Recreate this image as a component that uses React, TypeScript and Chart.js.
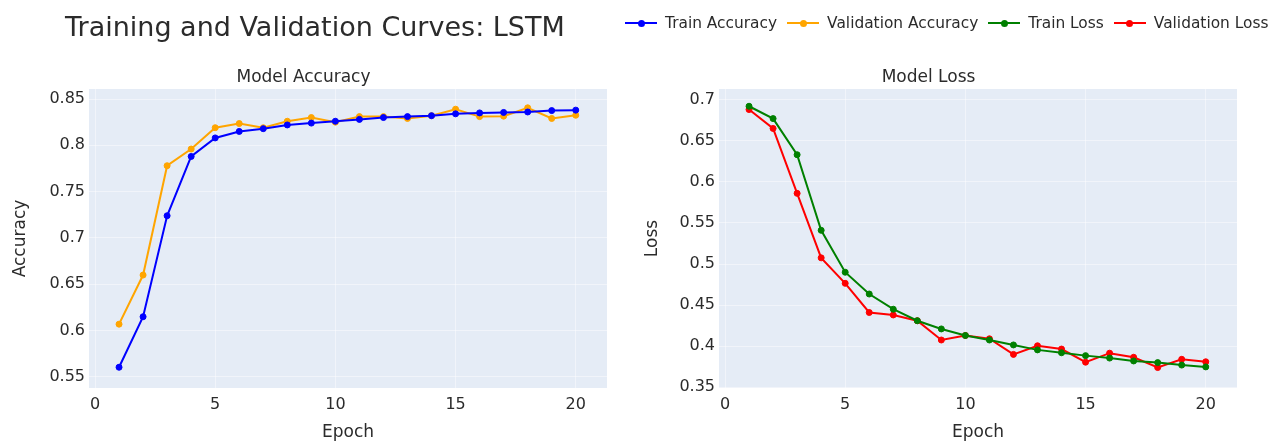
import React, { useEffect, useRef } from 'react';
import { Chart, registerables } from 'chart.js';

Chart.register(...registerables);

// ---------- data ----------
const epochs = [1, 2, 3, 4, 5, 6, 7, 8, 9, 10, 11, 12, 13, 14, 15, 16, 17, 18, 19, 20];
const trainAcc = [0.5605, 0.615, 0.724, 0.788, 0.808, 0.815, 0.818, 0.822, 0.824, 0.826, 0.828, 0.830, 0.831, 0.832, 0.834, 0.835, 0.8355, 0.836, 0.8375, 0.838];
const valAcc = [0.607, 0.660, 0.778, 0.796, 0.819, 0.8235, 0.819, 0.826, 0.830, 0.825, 0.831, 0.831, 0.829, 0.832, 0.839, 0.831, 0.8315, 0.8405, 0.829, 0.8325];
const trainLoss = [0.692, 0.677, 0.633, 0.541, 0.490, 0.4635, 0.445, 0.431, 0.421, 0.413, 0.4075, 0.4015, 0.3955, 0.392, 0.3885, 0.3855, 0.382, 0.380, 0.377, 0.3748];
const valLoss = [0.688, 0.665, 0.586, 0.5075, 0.4765, 0.441, 0.438, 0.431, 0.4075, 0.413, 0.409, 0.390, 0.4005, 0.3965, 0.3805, 0.3915, 0.3865, 0.374, 0.384, 0.381];

const accTicks = [0.55, 0.6, 0.65, 0.7, 0.75, 0.8, 0.85];
const lossTicks = [0.35, 0.4, 0.45, 0.5, 0.55, 0.6, 0.65, 0.7];
const epochTicks = [0, 5, 10, 15, 20];

const seriesNames = ['Train Accuracy', 'Validation Accuracy', 'Train Loss', 'Validation Loss'];
const seriesColors = ['#0000ff', '#ffa500', '#008000', '#ff0000'];

const mainTitle = 'Training and Validation Curves: LSTM';
const accTitle = 'Model Accuracy';
const lossTitle = 'Model Loss';
const xTitle = 'Epoch';
const accYTitle = 'Accuracy';
const lossYTitle = 'Loss';

// ---------- style ----------
const FONT = '"DejaVu Sans", Verdana, sans-serif';
const TEXT = '#2b2b2b';
const PLOT_BG = '#E5ECF6';
const GRID = 'rgba(255,255,255,0.45)';

const bgPlugin = {
  id: 'plotBg',
  beforeDraw(chart: any) {
    const { ctx, chartArea } = chart;
    if (!chartArea) return;
    ctx.save();
    ctx.fillStyle = PLOT_BG;
    ctx.fillRect(chartArea.left, chartArea.top, chartArea.width, chartArea.height);
    ctx.restore();
  },
};

function toPoints(ys: number[]) {
  return epochs.map((x, i) => ({ x, y: ys[i] }));
}

function dataset(label: string, color: string, ys: number[]) {
  return {
    label,
    data: toPoints(ys),
    borderColor: color,
    backgroundColor: color,
    pointBackgroundColor: color,
    pointBorderColor: color,
    borderWidth: 2,
    pointRadius: 3,
    pointBorderWidth: 1,
    tension: 0,
  };
}

type PanelProps = {
  left: number;
  width: number;
  title: string;
  yTitle: string;
  yTicks: number[];
  yMin: number;
  yMax: number;
  yWidth: number;
  yTitlePad: number;
  padRight: number;
  datasets: any[];
};

function Panel(p: PanelProps) {
  const ref = useRef<HTMLCanvasElement | null>(null);
  useEffect(() => {
    if (!ref.current) return;
    const chart = new Chart(ref.current, {
      type: 'line',
      data: { datasets: p.datasets },
      plugins: [bgPlugin],
      options: {
        animation: false,
        responsive: false,
        maintainAspectRatio: false,
        layout: { padding: { top: 64.6, left: 0, right: p.padRight, bottom: 0 } },
        plugins: {
          legend: { display: false },
          tooltip: { enabled: false },
          title: {
            display: true,
            text: p.title,
            color: TEXT,
            font: { family: FONT, size: 17, weight: 'normal', lineHeight: 1.2 },
            padding: { top: 2.5, bottom: 1.5 },
          },
        },
        scales: {
          x: {
            type: 'linear',
            min: -0.25,
            max: 21.3,
            afterBuildTicks(scale: any) {
              scale.ticks = epochTicks.map((v) => ({ value: v }));
            },
            afterFit(scale: any) {
              scale.height = 58;
            },
            ticks: {
              color: TEXT,
              padding: 7,
              font: { family: FONT, size: 16 },
              callback: (v: any) => String(v),
              maxRotation: 0,
            },
            grid: { color: GRID, lineWidth: 1, drawTicks: false },
            border: { display: false },
            title: {
              display: true,
              text: xTitle,
              color: TEXT,
              font: { family: FONT, size: 17, lineHeight: 1.2 },
              padding: { top: 0, bottom: 3 },
            },
          },
          y: {
            type: 'linear',
            min: p.yMin,
            max: p.yMax,
            afterBuildTicks(scale: any) {
              scale.ticks = p.yTicks.map((v) => ({ value: v }));
            },
            afterFit(scale: any) {
              scale.width = p.yWidth;
            },
            ticks: {
              color: TEXT,
              padding: 4,
              font: { family: FONT, size: 16 },
              callback: (v: any) => String(Number(Number(v).toFixed(2))),
            },
            grid: { color: GRID, lineWidth: 1, drawTicks: false },
            border: { display: false },
            title: {
              display: true,
              text: p.yTitle,
              color: TEXT,
              font: { family: FONT, size: 17, lineHeight: 1.2 },
              padding: { top: p.yTitlePad, bottom: 0 },
            },
          },
        },
      } as any,
    });
    return () => chart.destroy();
  }, []);
  return (
    <canvas
      ref={ref}
      width={p.width}
      height={446}
      style={{ position: 'absolute', left: p.left, top: 0, width: p.width, height: 446 }}
    />
  );
}

function LegendIcon({ color }: { color: string }) {
  return (
    <span style={{ position: 'relative', display: 'inline-block', width: 32, height: 10, marginRight: 8 }}>
      <span style={{ position: 'absolute', left: 0, right: 0, top: 4, height: 2, background: color }} />
      <span
        style={{
          position: 'absolute',
          left: 12.5,
          top: 1.5,
          width: 7,
          height: 7,
          borderRadius: '50%',
          background: color,
        }}
      />
    </span>
  );
}

export default function App() {
  return (
    <div style={{ position: 'absolute', left: 0, top: 0, width: 1288, height: 446, background: '#ffffff', overflow: 'hidden' }}>
      <Panel
        left={0}
        width={620}
        title={accTitle}
        yTitle={accYTitle}
        yTicks={accTicks}
        yMin={0.5381}
        yMax={0.8608}
        yWidth={89}
        yTitlePad={10}
        padRight={13}
        datasets={[dataset(seriesNames[0], seriesColors[0], trainAcc), dataset(seriesNames[1], seriesColors[1], valAcc)]}
      />
      <Panel
        left={620}
        width={668}
        title={lossTitle}
        yTitle={lossYTitle}
        yTicks={lossTicks}
        yMin={0.3491}
        yMax={0.713}
        yWidth={99}
        yTitlePad={22}
        padRight={51}
        datasets={[dataset(seriesNames[2], seriesColors[2], trainLoss), dataset(seriesNames[3], seriesColors[3], valLoss)]}
      />
      <div
        style={{
          position: 'absolute',
          left: 65,
          top: 11,
          fontFamily: FONT,
          fontSize: 27,
          lineHeight: '31px',
          color: TEXT,
          whiteSpace: 'nowrap',
        }}
      >
        {mainTitle}
      </div>
      <div
        style={{
          position: 'absolute',
          left: 625,
          top: 13,
          height: 20,
          display: 'flex',
          alignItems: 'center',
          fontFamily: FONT,
          fontSize: 15.4,
          color: TEXT,
          whiteSpace: 'nowrap',
        }}
      >
        {seriesNames.map((name, i) => (
          <span key={name} style={{ display: 'inline-flex', alignItems: 'center', marginRight: 10 }}>
            <LegendIcon color={seriesColors[i]} />
            <span>{name}</span>
          </span>
        ))}
      </div>
    </div>
  );
}
